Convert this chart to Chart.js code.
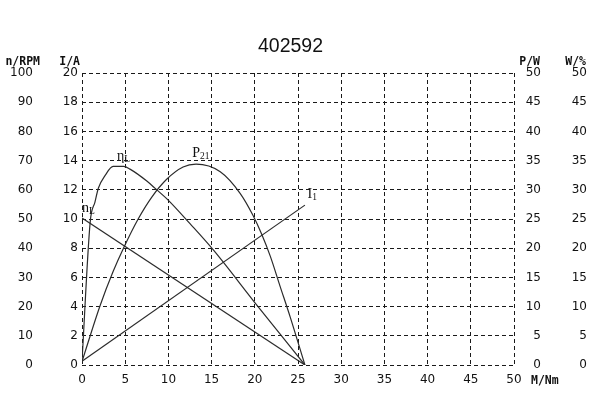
<!DOCTYPE html>
<html>
<head>
<meta charset="utf-8">
<script src="https://cdn.jsdelivr.net/npm/chart.js@4.4.1/dist/chart.umd.min.js"></script>
<style>
  html, body { margin: 0; padding: 0; background: #fff; }
  #wrap { width: 600px; height: 397px; position: relative; }
</style>
</head>
<body>
<div id="wrap"><canvas id="motorChart"></canvas></div>
<script>
const chartTitle = '402592';

// tick labels
const torqueTicks = [0, 5, 10, 15, 20, 25, 30, 35, 40, 45, 50];
const currentTicks = [0, 2, 4, 6, 8, 10, 12, 14, 16, 18, 20];
const speedTicks = [0, 10, 20, 30, 40, 50, 60, 70, 80, 90, 100];
const powerTicks = [0, 5, 10, 15, 20, 25, 30, 35, 40, 45, 50];
const effTicks = [0, 5, 10, 15, 20, 25, 30, 35, 40, 45, 50];

// speed n (RPM) vs torque M (Nm)
const speedTorque = [0, 25.8];
const speedValues = [50.3, 0];

// current I (A)
const currentTorque = [0, 25.8];
const currentValues = [0.25, 10.95];

// efficiency (%)
const effTorque = [0, 0.95, 1.5, 1.9, 2.7, 3.6, 4.8, 5.6, 7.5, 8.5, 10, 12.5, 15.2, 20, 25.8];
const effValues = [0.6, 24.5, 27.9, 30.3, 32.5, 34.0, 34.0, 33.5, 31.5, 30.2, 28.2, 24.2, 19.7, 10.7, 0];

// output power P2 (W)
const powerTorque = [0, 2.1, 3.6, 4.8, 6.5, 8.1, 9.8, 11.7, 13.2, 16, 18.3, 19.8, 20.8, 21.8, 22.9, 24.1, 25.8];
const powerValues = [0.6, 10.2, 16.0, 20.0, 25.0, 28.8, 31.8, 33.9, 34.4, 33.1, 29.4, 25.6, 22.4, 18.6, 13.6, 8.2, 0];

// curve labels, placed in torque / current units
const curveLabels = [
    { text: 'η', sub: 'L', x: 4.05, y: 14.04 },
    { text: 'n', sub: 'L', x: 0.0, y: 10.5 },
    { text: 'P', sub: '21', x: 12.75, y: 14.25 },
    { text: 'I', sub: '1', x: 26.1, y: 11.45 }
];

const toPoints = (xs, ys) => xs.map((x, i) => ({ x: x, y: ys[i] }));
const setTicks = (values) => (scale) => { scale.ticks = values.map(v => ({ value: v })); };

const lineColor = '#2b2b2b';
const gridColor = '#1a1a1a';
const tickFont = { family: '"DejaVu Sans", Verdana, sans-serif', size: 12 };
const tickColor = '#111';

const textPlugin = {
    id: 'chartText',
    afterDraw(chart) {
        const ctx = chart.ctx;
        const s = chart.scales;
        ctx.save();
        ctx.fillStyle = '#111';
        ctx.textBaseline = 'alphabetic';

        ctx.font = '19.5px "Liberation Sans", Arial, sans-serif';
        ctx.textAlign = 'center';
        ctx.fillText(chartTitle, 290.5, 52);

        // axis titles
        ctx.font = 'bold 11.5px "DejaVu Sans Mono", monospace';
        ctx.textAlign = 'right';
        ctx.fillText('n/RPM', s.yN.right - 2, 65);
        ctx.fillText('I/A', s.yI.right - 2, 65);
        ctx.fillText('P/W', s.yP.right - 1, 65);
        ctx.fillText('W/%', s.yW.right - 1, 65);
        ctx.textAlign = 'left';
        ctx.fillText('M/Nm', s.x.right + 17, 384);

        // curve labels
        curveLabels.forEach(l => {
            const px = s.x.getPixelForValue(l.x);
            const py = s.yI.getPixelForValue(l.y);
            ctx.font = '14px "Liberation Serif", "Times New Roman", serif';
            ctx.fillText(l.text, px, py);
            const w = ctx.measureText(l.text).width;
            ctx.font = '9.5px "Liberation Serif", "Times New Roman", serif';
            ctx.fillText(l.sub, px + w, py + 2);
        });
        ctx.restore();
    }
};

const ctxMotor = document.getElementById('motorChart').getContext('2d');
const motorChart = new Chart(ctxMotor, {
    type: 'line',
    data: {
        datasets: [
            { label: 'n', data: toPoints(speedTorque, speedValues), yAxisID: 'yN' },
            { label: 'I', data: toPoints(currentTorque, currentValues), yAxisID: 'yI' },
            { label: 'η', data: toPoints(effTorque, effValues), yAxisID: 'yW', cubicInterpolationMode: 'monotone' },
            { label: 'P2', data: toPoints(powerTorque, powerValues), yAxisID: 'yP', cubicInterpolationMode: 'monotone' }
        ].map(d => Object.assign({
            borderColor: lineColor,
            borderWidth: 1.2,
            pointRadius: 0,
            fill: false
        }, d))
    },
    options: {
        responsive: true,
        maintainAspectRatio: false,
        animation: false,
        layout: { padding: { top: 73, left: 0, right: 13, bottom: 0 } },
        plugins: {
            legend: { display: false },
            tooltip: { enabled: false },
            title: { display: false }
        },
        scales: {
            x: {
                type: 'linear',
                min: 0,
                max: 50,
                afterBuildTicks: setTicks(torqueTicks),
                afterFit: (scale) => { scale.height = 32; },
                ticks: { font: tickFont, color: tickColor, padding: 8, maxRotation: 0 },
                grid: { color: gridColor, lineWidth: 1, drawTicks: false },
                border: { display: false, dash: [4, 3] }
            },
            yI: {
                position: 'left',
                weight: 0,
                min: 0,
                max: 20,
                afterBuildTicks: setTicks(currentTicks),
                afterFit: (scale) => { scale.width = 40; },
                ticks: { font: tickFont, color: tickColor, padding: 4 },
                grid: { color: gridColor, lineWidth: 1, drawTicks: false },
                border: { display: false, dash: [4, 3] }
            },
            yN: {
                position: 'left',
                weight: 1,
                min: 0,
                max: 100,
                afterBuildTicks: setTicks(speedTicks),
                afterFit: (scale) => { scale.width = 42; },
                ticks: { font: tickFont, color: tickColor, padding: 9 },
                grid: { drawOnChartArea: false, drawTicks: false },
                border: { display: false }
            },
            yP: {
                position: 'right',
                weight: 0,
                min: 0,
                max: 50,
                afterBuildTicks: setTicks(powerTicks),
                afterFit: (scale) => { scale.width = 27; },
                ticks: { font: tickFont, color: tickColor, padding: 4, crossAlign: 'far' },
                grid: { drawOnChartArea: false, drawTicks: false },
                border: { display: false }
            },
            yW: {
                position: 'right',
                weight: 1,
                min: 0,
                max: 50,
                afterBuildTicks: setTicks(effTicks),
                afterFit: (scale) => { scale.width = 46; },
                ticks: { font: tickFont, color: tickColor, padding: 4, crossAlign: 'far' },
                grid: { drawOnChartArea: false, drawTicks: false },
                border: { display: false }
            }
        }
    },
    plugins: [textPlugin]
});
</script>
</body>
</html>
